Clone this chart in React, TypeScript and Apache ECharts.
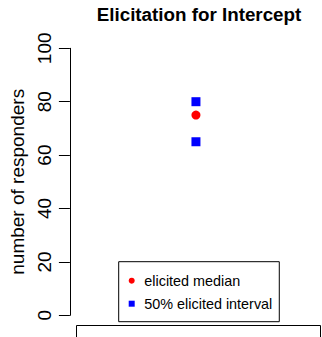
import React, { useEffect, useRef } from "react";
import * as echarts from "echarts";

const categories = ["Intercept"];
const medianValues = [75];
const intervalValues = [80, 65];
const legendNames = ["elicited median", "50% elicited interval"];
const titleText = "Elicitation for Intercept";
const yAxisName = "number of responders";

const FONT = "'Liberation Sans', Arial, Helvetica, sans-serif";

export default function App() {
  const ref = useRef<HTMLDivElement>(null);
  useEffect(() => {
    document.body.style.margin = "0";
    const chart = echarts.init(ref.current as HTMLDivElement, null, { renderer: "svg" });
    chart.setOption({
      animation: false,
      backgroundColor: "#ffffff",
      title: {
        text: titleText,
        left: 199,
        top: 5,
        padding: 0,
        textAlign: "center",
        textStyle: { fontFamily: FONT, fontSize: 18.8, fontWeight: "bold", color: "#000" },
      },
      grid: { left: 66, top: 48.3, width: 266, bottom: 21.7, containLabel: false },
      xAxis: {
        type: "category",
        data: categories,
        boundaryGap: true,
        show: false,
      },
      yAxis: {
        type: "value",
        min: 0,
        max: 100,
        interval: 20,
        name: yAxisName,
        nameLocation: "middle",
        nameRotate: 90,
        nameGap: 38,
        nameTextStyle: { fontFamily: FONT, fontSize: 19, color: "#000" },
        axisLine: { show: true, lineStyle: { color: "#000", width: 1 } },
        axisTick: { show: true, length: 11, lineStyle: { color: "#000", width: 1 } },
        axisLabel: { rotate: 90, margin: 16, fontFamily: FONT, fontSize: 19, color: "#000" },
        splitLine: { show: false },
      },
      legend: {
        orient: "vertical",
        left: 118.7,
        top: 261.7,
        data: legendNames,
        itemWidth: 6,
        itemHeight: 6,
        itemGap: 7,
        padding: [11, 7, 10, 10],
        borderColor: "#000",
        borderWidth: 1,
        borderRadius: 0,
        itemStyle: { opacity: 1 },
        textStyle: { fontFamily: FONT, fontSize: 14.4, color: "#000", lineHeight: 16, padding: [0, 0, 0, 4.6] },
      },
      series: [
        {
          name: legendNames[0],
          type: "scatter",
          symbol: "circle",
          symbolSize: 9,
          itemStyle: { color: "#ff0000", opacity: 1 },
          data: medianValues.map((v) => [categories[0], v]),
        },
        {
          name: legendNames[1],
          type: "scatter",
          symbol: "rect",
          symbolSize: 9,
          itemStyle: { color: "#0000ff", opacity: 1 },
          data: intervalValues.map((v) => [categories[0], v]),
        },
      ],
      graphic: [
        {
          type: "rect",
          shape: { x: 76.5, y: 325.5, width: 244, height: 30 },
          style: { fill: "none", stroke: "#000", lineWidth: 1 },
          silent: true,
        },
      ],
    });
    return () => chart.dispose();
  }, []);
  return <div ref={ref} style={{ width: 322, height: 337 }} />;
}
